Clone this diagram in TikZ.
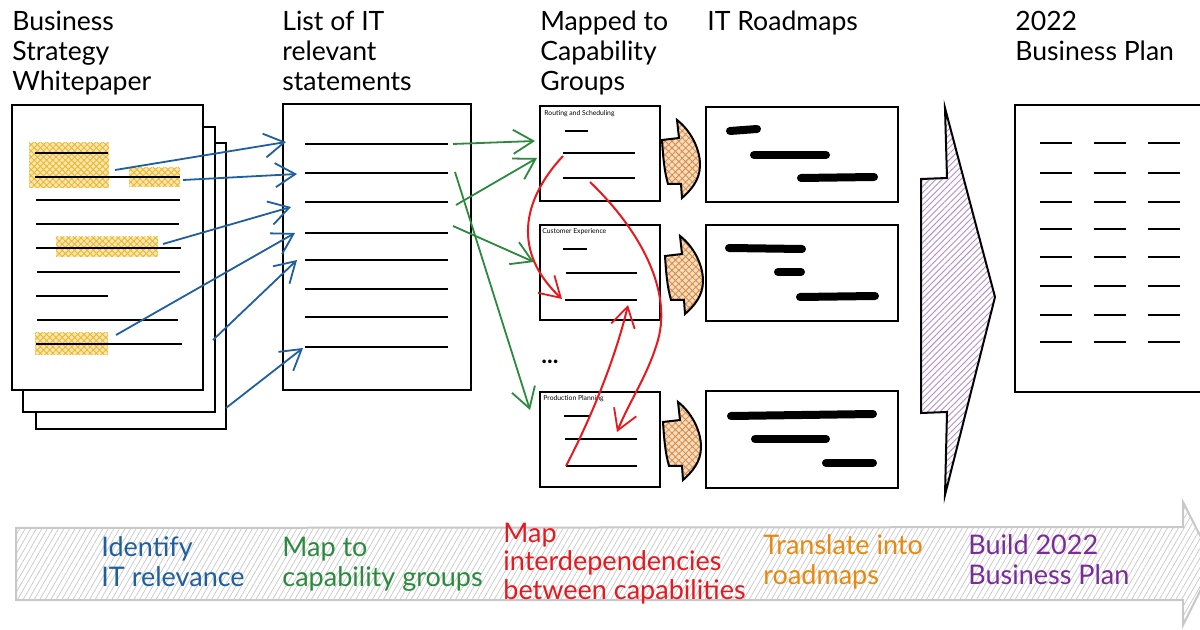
\documentclass[tikz,border=0pt]{standalone}
\usepackage{fontspec}
\setmainfont{Lato}
\usetikzlibrary{arrows.meta,patterns.meta}
\definecolor{exblue}{HTML}{1F5FA0}
\definecolor{exgreen}{HTML}{2B8A3E}
\definecolor{exred}{HTML}{E8181E}
\definecolor{exorange}{HTML}{E8890C}
\definecolor{expurple}{HTML}{7B2A9A}
\definecolor{hlyellow}{HTML}{EDB82A}
\definecolor{hatchorange}{HTML}{D98A40}
\definecolor{fillorange}{HTML}{F6DCC0}
\definecolor{hatchpurple}{HTML}{B58CCB}
\definecolor{hatchgray}{HTML}{C8C8C8}
\begin{document}
\begin{tikzpicture}[x={(0.5pt,0)}, y={(0,-0.5pt)},
  doc/.style={draw=black, line width=0.9pt, fill=white},
  txtline/.style={draw=black, line width=0.8pt},
  bar/.style={draw=black, line width=4pt, line cap=round},
  title/.style={anchor=base west, inner sep=0pt, font=\fontsize{13.3}{15}\selectfont},
  steptext/.style={anchor=base west, inner sep=0pt, font=\fontsize{13.5}{15}\selectfont},
  tiny/.style={anchor=base west, inner sep=0pt, font=\fontsize{3.4}{4}\selectfont},
  highlight/.style={preaction={fill=hlyellow!35}, pattern={Hatch[angle=45,distance=2.2pt,line width=0.45pt]}, pattern color=hlyellow},
  barb/.style={-{Straight Barb[length=10pt,width=12pt,line width=0.9pt]}},
  bluearr/.style={barb, draw=exblue, line width=0.9pt},
  greenarr/.style={barb, draw=exgreen, line width=0.9pt},
  redarr/.style={barb, draw=exred, line width=1pt},
  oarrow/.style={draw=black, line width=1pt, preaction={fill=fillorange}, pattern={Hatch[angle=45,distance=2.4pt,line width=0.4pt]}, pattern color=hatchorange}
]
\useasboundingbox (0,0) rectangle (1200,630);
\fill[white] (0,0) rectangle (1200,630);

% ---------- titles ----------
\node[title] (t1a) at (12,31) {Business};
\node[title] (t1b) at (12,61) {Strategy};
\node[title] (t1c) at (12,91) {Whitepaper};
\node[title] (t2a) at (282,31) {List of IT};
\node[title] (t2b) at (282,61) {relevant};
\node[title] (t2c) at (282,91) {statements};
\node[title] (t3a) at (540,31) {Mapped to};
\node[title] (t3b) at (540,61) {Capability};
\node[title] (t3c) at (540,91) {Groups};
\node[title] (t4)  at (707,31) {IT Roadmaps};
\node[title] (t5a) at (1015,31) {2022};
\node[title] (t5b) at (1015,61) {Business Plan};

% ---------- whitepaper stack ----------
\draw[doc] (36,143) rectangle (226,429);
\draw[doc] (23,127) rectangle (215,412);
\draw[doc] (12,105) rectangle (203,390);
\path[highlight] (29,143) rectangle (109,188);
\path[highlight] (129,168) rectangle (180,187);
\path[highlight] (56,237) rectangle (158,257);
\path[highlight] (35,333) rectangle (108,355);
\foreach \yy/\xa/\xb in {153/35/108,177/35/180,200/36/180,224/36/179,248/36/181,272/37/180,296/36/108,320/37/178,344/36/182}
  \draw[txtline] (\xa,\yy) -- (\xb,\yy);

% ---------- list of statements ----------
\draw[doc] (283,104) rectangle (471,390);
\foreach \yy in {144,173,202,233,260,289,317,347}
  \draw[txtline] (305,\yy) -- (448,\yy);

% ---------- capability groups ----------
\draw[doc] (540,106) rectangle (660,201);
\draw[doc] (540,225) rectangle (660,320);
\draw[doc] (540,392) rectangle (660,487);
\node[tiny] (c1) at (544,116) {Routing and Scheduling};
\node[tiny] (c2) at (542,234) {Customer Experience};
\node[tiny] (c3) at (543,401) {Production Planning};
\draw[txtline] (565,131) -- (588,131);
\draw[txtline] (563,153) -- (635,153);
\draw[txtline] (563,178) -- (635,178);
\draw[txtline] (563,249) -- (587,249);
\draw[txtline] (566,273) -- (637,273);
\draw[txtline] (565,300) -- (637,300);
\draw[txtline] (564,416) -- (590,416);
\draw[txtline] (565,439) -- (637,439);
\draw[txtline] (566,466) -- (637,466);
\node[inner sep=0pt, font=\fontsize{12}{12}\selectfont\bfseries] (dots) at (550,362) {...};

% ---------- orange translate arrows ----------
\foreach \ox/\oy in {662/120, 665/236, 663/402}
  \draw[oarrow, shift={(\ox,\oy)}] (0,20) -- (17,18) -- (15,0)
     .. controls (28,10) and (38,28) .. (38,45)
     .. controls (38,60) and (29,70) .. (20,78) -- (19,64) -- (6,64)
     .. controls (2,50) and (1,35) .. (0,20) -- cycle;

% ---------- roadmaps ----------
\draw[doc] (706,107) rectangle (898,202);
\draw[doc] (706,225) rectangle (898,321);
\draw[doc] (706,391) rectangle (898,488);
\draw[bar] (730,131) -- (757,129);
\draw[bar] (754,155) -- (826,155);
\draw[bar] (801,178) -- (874,177);
\draw[bar] (729,248) -- (802,249);
\draw[bar] (778,272) -- (801,272);
\draw[bar] (800,297) -- (875,296);
\draw[bar] (731,416) -- (873,414);
\draw[bar] (755,439) -- (826,439);
\draw[bar] (826,463) -- (873,463);

% ---------- purple arrow ----------
\draw[draw=black, line width=1pt, pattern={Lines[angle=45,distance=2.2pt,line width=0.45pt]}, pattern color=hatchpurple]
  (945,108) -- (947,178) -- (921,179) -- (921,413) -- (947,412) -- (945,495) -- (995,297) -- cycle;

% ---------- business plan ----------
\draw[doc] (1015,105) rectangle (1206,392);
\foreach \yy in {143,173,202,229,257,286,315,342}{
  \draw[txtline] (1040,\yy) -- (1072,\yy);
  \draw[txtline] (1094,\yy) -- (1126,\yy);
  \draw[txtline] (1148,\yy) -- (1180,\yy);
}

% ---------- connector end points ----------
\coordinate (wA) at (115,170);  \coordinate (lA) at (286,142);
\coordinate (wB) at (183,180);  \coordinate (lB) at (297,174);
\coordinate (wC) at (163,244);  \coordinate (lC) at (291,207);
\coordinate (wD) at (116,335);  \coordinate (lD) at (295,233);
\coordinate (wE) at (213,340);  \coordinate (lE) at (297,260);
\coordinate (wF) at (226,408);  \coordinate (lF) at (303,348);
\coordinate (sA) at (453,144);  \coordinate (gA) at (535,141);
\coordinate (sB) at (456,205);  \coordinate (gB) at (537,158);
\coordinate (sC) at (453,226);  \coordinate (gC) at (534,262);
\coordinate (sD) at (455,172);  \coordinate (gD) at (530,410);
\coordinate (r1s) at (563,156); \coordinate (r1e) at (562,299);
\coordinate (r2s) at (590,182); \coordinate (r2e) at (617,432);
\coordinate (r3s) at (566,466); \coordinate (r3e) at (628,305);

% blue
\draw[bluearr] (wA) -- (lA);
\draw[bluearr] (wB) -- (lB);
\draw[bluearr] (wC) -- (lC);
\draw[bluearr] (wD) -- (lD);
\draw[bluearr] (wE) -- (lE);
\draw[bluearr] (wF) -- (lF);
% green
\draw[greenarr] (sA) -- (gA);
\draw[greenarr] (sB) -- (gB);
\draw[greenarr] (sC) -- (gC);
\draw[greenarr] (sD) -- (gD);
% red
\draw[redarr] (r1s) .. controls (522,200) and (512,252) .. (r1e);
\draw[redarr] (r2s) .. controls (640,230) and (672,290) .. (658,340) .. controls (648,375) and (630,400) .. (r2e);
\draw[redarr] (r3s) .. controls (590,420) and (615,360) .. (r3e);

% ---------- bottom process arrow ----------
\draw[draw=hatchgray, line width=1pt, pattern={Lines[angle=60,distance=2.4pt,line width=0.35pt]}, pattern color=hatchgray]
  (16,528) -- (1183,527) -- (1183,502) -- (1214,563) -- (1183,625) -- (1183,600) -- (16,600) -- cycle;

\node[steptext, text=exblue] (b1a) at (101,557) {Identify};
\node[steptext, text=exblue] (b1b) at (101,587) {IT relevance};
\node[steptext, text=exgreen] (b2a) at (282,557) {Map to};
\node[steptext, text=exgreen] (b2b) at (282,587) {capability groups};
\node[steptext, text=exred] (b3a) at (503,543) {Map};
\node[steptext, text=exred] (b3b) at (503,571) {interdependencies};
\node[steptext, text=exred] (b3c) at (503,599) {between capabilities};
\node[steptext, text=exorange] (b4a) at (763,555) {Translate into};
\node[steptext, text=exorange] (b4b) at (763,585) {roadmaps};
\node[steptext, text=expurple] (b5a) at (968,555) {Build 2022};
\node[steptext, text=expurple] (b5b) at (968,585) {Business Plan};
\end{tikzpicture}
\end{document}
